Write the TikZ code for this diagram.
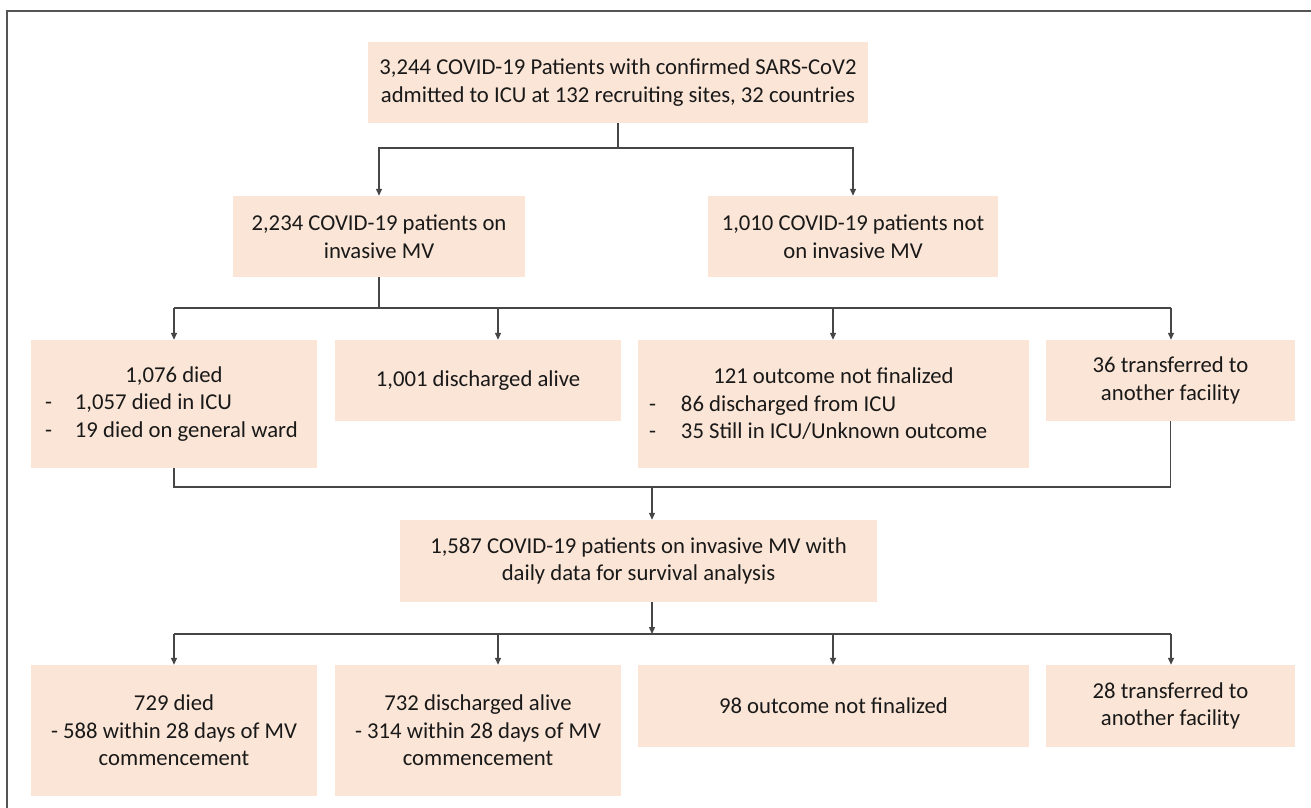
\documentclass[tikz,border=0pt]{standalone}
\usepackage{fontspec}
\setmainfont{Carlito}
\usetikzlibrary{arrows.meta}
\definecolor{peche}{RGB}{251,229,214}
\definecolor{trait}{RGB}{70,70,70}
\definecolor{cadre}{RGB}{85,85,85}
\definecolor{texte}{RGB}{25,25,25}

\begin{document}
\begin{tikzpicture}[x=1pt, y=-1pt, >={Triangle[length=7pt, width=6pt]},
        bloc/.style={fill=peche, text=texte, inner sep=0pt, align=center, font=\fontsize{22.7}{27.5}\selectfont},
        fil/.style={draw=trait, line width=1.3pt}]
        \useasboundingbox (0,0) rectangle (1311,808);
        \draw[cadre, line width=1.6pt] (7,808) -- (7,11) -- (1311,11);

        % niveaux 1 et 2
        \node[bloc, minimum width=500, minimum height=81] (total) at (618,82.5) {3,244 COVID-19 Patients with confirmed SARS-CoV2\\admitted to ICU at 132 recruiting sites, 32 countries};
        \node[bloc, minimum width=292, minimum height=81] (mv) at (379,236.5) {2,234 COVID-19 patients on\\invasive MV};
        \node[bloc, minimum width=290, minimum height=81] (nonmv) at (853,236.5) {1,010 COVID-19 patients not\\on invasive MV};

        % niveau 3
        \node[bloc, minimum width=286, minimum height=128, align=left] (deces) at (174,404) {\makebox[258pt]{1,076 died}\\\makebox[30pt][l]{-}1,057 died in ICU\\\makebox[30pt][l]{-}19 died on general ward};
        \node[bloc, minimum width=286, minimum height=81] (sortis) at (478,380.5) {1,001 discharged alive};
        \node[bloc, minimum width=391, minimum height=128, align=left] (encours) at (833.5,404) {\makebox[369pt]{121 outcome not finalized}\\\makebox[32pt][l]{-}86 discharged from ICU\\\makebox[32pt][l]{-}35 Still in ICU/Unknown outcome};
        \node[bloc, minimum width=249, minimum height=81] (transfert) at (1170.5,380.5) {36 transferred to\\another facility};

        % niveau 4
        \node[bloc, minimum width=477, minimum height=82] (survie) at (638.5,561) {1,587 COVID-19 patients on invasive MV with\\daily data for survival analysis};

        % niveau 5
        \node[bloc, minimum width=286, minimum height=131] (deces2) at (174,730.5) {729 died\\- 588 within 28 days of MV\\commencement};
        \node[bloc, minimum width=286, minimum height=131] (sortis2) at (478,730.5) {732 discharged alive\\- 314 within 28 days of MV\\commencement};
        \node[bloc, minimum width=391, minimum height=82] (encours2) at (833.5,706) {98 outcome not finalized};
        \node[bloc, minimum width=249, minimum height=82] (transfert2) at (1170.5,706) {28 transferred to\\another facility};

        % liens
        \coordinate (n1) at (618,148);
        \draw[fil] (total) -- (n1);
        \draw[fil, ->] (n1) -| (mv.north);
        \draw[fil, ->] (n1) -| (nonmv.north);

        \coordinate (n2) at (379,308);
        \coordinate (b1) at (174,308);
        \coordinate (b2) at (498,308);
        \coordinate (b3) at (833,308);
        \coordinate (b4) at (1171,308);
        \draw[fil] (mv) -- (n2);
        \draw[fil] (b1) -- (b4);
        \draw[fil, ->] (b1) -- (b1 |- deces.north);
        \draw[fil, ->] (b2) -- (b2 |- sortis.north);
        \draw[fil, ->] (b3) -- (b3 |- encours.north);
        \draw[fil, ->] (b4) -- (b4 |- transfert.north);

        \coordinate (n3) at (652,487);
        \draw[fil] (deces.south) |- (n3) -| (transfert.south);
        \draw[fil, ->] (n3) -- (n3 |- survie.north);

        \coordinate (n4) at (652,634);
        \coordinate (c1) at (174,634);
        \coordinate (c2) at (498,634);
        \coordinate (c3) at (833,634);
        \coordinate (c4) at (1171,634);
        \draw[fil, ->] (n4 |- survie.south) -- (n4);
        \draw[fil] (c1) -- (c4);
        \draw[fil, ->] (c1) -- (c1 |- deces2.north);
        \draw[fil, ->] (c2) -- (c2 |- sortis2.north);
        \draw[fil, ->] (c3) -- (c3 |- encours2.north);
        \draw[fil, ->] (c4) -- (c4 |- transfert2.north);
\end{tikzpicture}
\end{document}
